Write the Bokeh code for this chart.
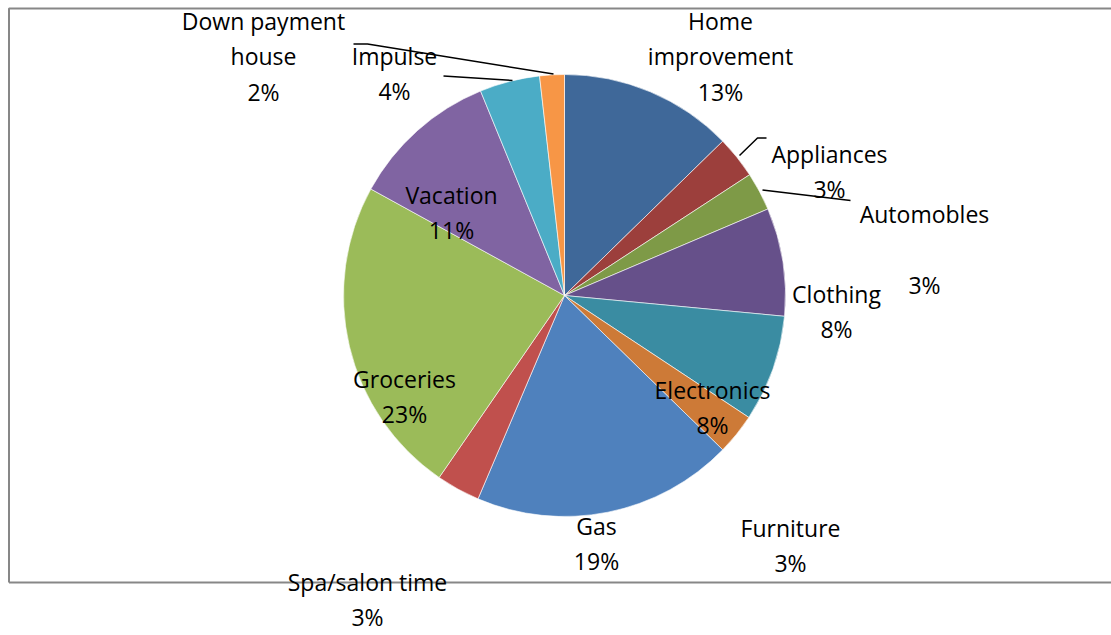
import numpy as np
from bokeh.plotting import figure
from bokeh.models import Range1d, ColumnDataSource
from bokeh.core.properties import value
from bokeh.embed import file_html
from bokeh.resources import INLINE

# ---- data ----
categories = ["Home improvement", "Appliances", "Automobles", "Clothing", "Electronics",
              "Furniture", "Gas", "Spa/salon time", "Groceries", "Vacation", "Impulse",
              "Down payment house"]
shares = [12.7, 3.1, 2.8, 7.9, 7.8, 3.0, 19.1, 3.2, 23.4, 10.8, 4.4, 1.8]
colors = ["#3F6899", "#9C3F3C", "#7E9A47", "#66508A", "#3A8CA2", "#CD7A37",
          "#4F81BD", "#C0504D", "#9BBB59", "#8064A2", "#4BACC6", "#F79646"]

# ---- layout (picture pixel coordinates) ----
W, H = 1111, 635
def PY(y):
    return H - y

CX, CY, R = 564, 295, 221
name_lines = {"Home improvement": "Home\nimprovement",
              "Down payment house": "Down payment\nhouse",
              "Automobles": "Automobles\n"}
label_pos = {"Home improvement": (720, 56), "Appliances": (829, 171),
             "Automobles": (924, 249), "Clothing": (836, 311),
             "Electronics": (712, 407), "Furniture": (790, 545),
             "Gas": (596, 543), "Spa/salon time": (367, 599),
             "Groceries": (404, 396), "Vacation": (451, 212),
             "Impulse": (394, 73), "Down payment house": (263, 56)}
leaders = [[(353, 43.5), (367, 43.5), (553, 73.5)],
           [(443, 75.5), (512, 80)],
           [(739, 155), (757, 137.5), (766, 137.5)],
           [(762, 189.5), (850, 200)]]

p = figure(width=W, height=H, x_range=Range1d(0, W), y_range=Range1d(0, H),
           output_backend="svg", toolbar_location=None, x_axis_type=None,
           y_axis_type=None, min_border=0, outline_line_color=None)
p.grid.visible = False
p.background_fill_color = "white"
p.border_fill_color = "white"

vals = np.array(shares, dtype=float)
frac = vals / vals.sum()
cum_end = np.cumsum(frac)
cum_start = cum_end - frac
src = ColumnDataSource(dict(
    cat=categories, color=colors,
    start=np.pi / 2 - 2 * np.pi * cum_end,
    end=np.pi / 2 - 2 * np.pi * cum_start))
p.wedge(x=CX, y=PY(CY), radius=R, start_angle="start", end_angle="end",
        fill_color="color", line_color="white", line_width=0.6, source=src)

# border of the chart area
p.line([8.5, 8.5, 1130], [PY(582), PY(8), PY(8)], line_color="#878787", line_width=2)
p.line([8.5, 1130], [PY(582), PY(582)], line_color="#878787", line_width=2)

# leader lines
p.multi_line([[pt[0] for pt in l] for l in leaders],
             [[PY(pt[1]) for pt in l] for l in leaders],
             line_color="black", line_width=1.5)

# labels
texts, lx, ly = [], [], []
for c, v in zip(categories, frac):
    texts.append(f"{name_lines.get(c, c)}\n{round(v * 100):.0f}%")
    lx.append(label_pos[c][0])
    ly.append(PY(label_pos[c][1]))
p.text(x=lx, y=ly, text=texts, text_align="center", text_baseline="middle",
       text_font=value("Open Sans"), text_font_size="23px", text_color="black",
       text_line_height=1.1)

open("out.html", "w").write(file_html(p, INLINE))
